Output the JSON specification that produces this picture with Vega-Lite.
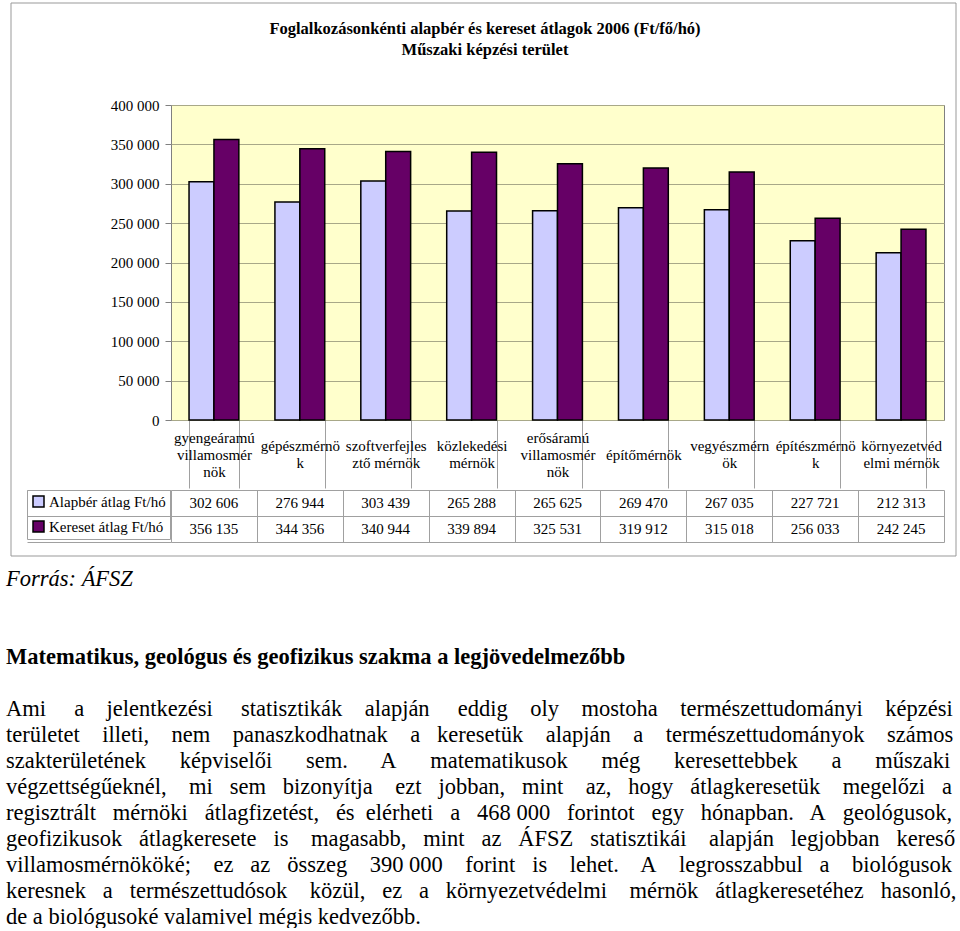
{
  "$schema": "https://vega.github.io/schema/vega-lite/v6.json",
  "padding": {"left": 5, "top": 3, "right": 0, "bottom": 0},
  "background": "white",
  "title": {
    "text": ["Foglalkozásonkénti alapbér és kereset átlagok 2006 (Ft/fő/hó)", "Műszaki képzési terület"],
    "font": "Liberation Serif", "fontSize": 16.5, "fontWeight": "bold", "color": "black",
    "lineHeight": 21, "anchor": "start", "frame": "group", "align": "center", "dx": 314, "offset": -55
  },
  "spacing": 0,
  "resolve": {"legend": {"color": "independent"}},
  "datasets": {
    "bars": [
      {"cat": "gyengeáramú villamosmérnök", "series": "Alapbér átlag Ft/hó", "value": 302606},
      {"cat": "gyengeáramú villamosmérnök", "series": "Kereset átlag Ft/hó", "value": 356135},
      {"cat": "gépészmérnök", "series": "Alapbér átlag Ft/hó", "value": 276944},
      {"cat": "gépészmérnök", "series": "Kereset átlag Ft/hó", "value": 344356},
      {"cat": "szoftverfejlesztő mérnök", "series": "Alapbér átlag Ft/hó", "value": 303439},
      {"cat": "szoftverfejlesztő mérnök", "series": "Kereset átlag Ft/hó", "value": 340944},
      {"cat": "közlekedési mérnök", "series": "Alapbér átlag Ft/hó", "value": 265288},
      {"cat": "közlekedési mérnök", "series": "Kereset átlag Ft/hó", "value": 339894},
      {"cat": "erősáramú villamosmérnök", "series": "Alapbér átlag Ft/hó", "value": 265625},
      {"cat": "erősáramú villamosmérnök", "series": "Kereset átlag Ft/hó", "value": 325531},
      {"cat": "építőmérnök", "series": "Alapbér átlag Ft/hó", "value": 269470},
      {"cat": "építőmérnök", "series": "Kereset átlag Ft/hó", "value": 319912},
      {"cat": "vegyészmérnök", "series": "Alapbér átlag Ft/hó", "value": 267035},
      {"cat": "vegyészmérnök", "series": "Kereset átlag Ft/hó", "value": 315018},
      {"cat": "építészmérnök", "series": "Alapbér átlag Ft/hó", "value": 227721},
      {"cat": "építészmérnök", "series": "Kereset átlag Ft/hó", "value": 256033},
      {"cat": "környezetvédelmi mérnök", "series": "Alapbér átlag Ft/hó", "value": 212313},
      {"cat": "környezetvédelmi mérnök", "series": "Kereset átlag Ft/hó", "value": 242245}
    ],
    "text": [
      {"line": 0, "kind": "src", "text": "Forrás: ÁFSZ"},
      {"line": 3, "kind": "head", "text": "Matematikus, geológus és geofizikus szakma a legjövedelmezőbb"},
      {"line": 5, "kind": "p", "text": "Ami\u00a0\u00a0\u00a0\u00a0 a\u00a0\u00a0\u00a0 jelentkezési\u00a0\u00a0\u00a0\u00a0 statisztikák\u00a0\u00a0\u00a0 alapján\u00a0\u00a0\u00a0\u00a0 eddig\u00a0\u00a0\u00a0 oly\u00a0\u00a0\u00a0 mostoha\u00a0\u00a0\u00a0 természettudományi\u00a0\u00a0\u00a0 képzési"},
      {"line": 6, "kind": "p", "text": "területet\u00a0\u00a0\u00a0 illeti,\u00a0\u00a0\u00a0 nem\u00a0\u00a0\u00a0 panaszkodhatnak\u00a0\u00a0\u00a0 a\u00a0\u00a0 keresetük\u00a0\u00a0\u00a0 alapján\u00a0\u00a0\u00a0 a\u00a0\u00a0\u00a0 természettudományok\u00a0\u00a0\u00a0 számos"},
      {"line": 7, "kind": "p", "text": "szakterületének\u00a0\u00a0\u00a0\u00a0\u00a0 képviselői\u00a0\u00a0\u00a0\u00a0\u00a0 sem.\u00a0\u00a0\u00a0\u00a0\u00a0 A\u00a0\u00a0\u00a0\u00a0\u00a0 matematikusok\u00a0\u00a0\u00a0\u00a0\u00a0 még\u00a0\u00a0\u00a0\u00a0\u00a0 keresettebbek\u00a0\u00a0\u00a0\u00a0\u00a0 a\u00a0\u00a0\u00a0\u00a0\u00a0 műszaki"},
      {"line": 8, "kind": "p", "text": "végzettségűeknél,\u00a0\u00a0\u00a0 mi\u00a0\u00a0 sem\u00a0\u00a0 bizonyítja\u00a0\u00a0\u00a0 ezt\u00a0\u00a0 jobban,\u00a0\u00a0 mint\u00a0\u00a0\u00a0 az,\u00a0\u00a0 hogy\u00a0\u00a0 átlagkeresetük\u00a0\u00a0\u00a0 megelőzi\u00a0\u00a0 a"},
      {"line": 9, "kind": "p", "text": "regisztrált\u00a0\u00a0 mérnöki\u00a0\u00a0 átlagfizetést,\u00a0\u00a0 és\u00a0 elérheti\u00a0\u00a0 a\u00a0\u00a0 468 000\u00a0\u00a0 forintot\u00a0\u00a0 egy\u00a0\u00a0 hónapban.\u00a0\u00a0 A\u00a0\u00a0 geológusok,"},
      {"line": 10, "kind": "p", "text": "geofizikusok\u00a0\u00a0 átlagkeresete\u00a0\u00a0 is\u00a0\u00a0\u00a0 magasabb,\u00a0\u00a0 mint\u00a0\u00a0 az\u00a0\u00a0 ÁFSZ\u00a0\u00a0 statisztikái\u00a0\u00a0\u00a0 alapján\u00a0\u00a0 legjobban\u00a0\u00a0 kereső"},
      {"line": 11, "kind": "p", "text": "villamosmérnököké;\u00a0\u00a0\u00a0 ez\u00a0\u00a0 az\u00a0\u00a0 összeg\u00a0\u00a0\u00a0 390 000\u00a0\u00a0\u00a0 forint\u00a0\u00a0 is\u00a0\u00a0\u00a0 lehet.\u00a0\u00a0\u00a0 A\u00a0\u00a0\u00a0 legrosszabbul\u00a0\u00a0 a\u00a0\u00a0\u00a0 biológusok"},
      {"line": 12, "kind": "p", "text": "keresnek\u00a0\u00a0 a\u00a0\u00a0 természettudósok\u00a0\u00a0\u00a0 közül,\u00a0\u00a0 ez\u00a0\u00a0 a\u00a0\u00a0 környezetvédelmi\u00a0\u00a0\u00a0 mérnök\u00a0\u00a0 átlagkeresetéhez\u00a0\u00a0 hasonló,"},
      {"line": 13, "kind": "p", "text": "de a biológusoké valamivel mégis kedvezőbb."}
    ]
  },
  "vconcat": [
    {
      "width": 773, "height": 315,
      "data": {"name": "bars"},
      "view": {"fill": "#FFFFCC", "stroke": "#808080", "strokeWidth": 1},
      "mark": {"type": "bar", "stroke": "black", "strokeWidth": 1.5},
      "encoding": {
        "x": {
          "field": "cat", "type": "nominal", "sort": null, "title": null,
          "scale": {"paddingInner": 0.42, "paddingOuter": 0.21},
          "axis": {
            "tickBand": "extent", "tickSize": 68, "tickColor": "#a0a0a0", "tickWidth": 1,
            "domain": false, "labelAngle": 0, "labelFontSize": 15, "labelBaseline": "middle",
            "labelPadding": {
              "condition": [
                {"test": "datum.value == 'gyengeáramú villamosmérnök' || datum.value == 'erősáramú villamosmérnök'", "value": -51},
                {"test": "datum.value != 'építőmérnök'", "value": -42.5}
              ],
              "value": -34
            },
            "labelLineHeight": 17, "labelLimit": 0,
            "labelExpr": "datum.value == 'gyengeáramú villamosmérnök' ? ['gyengeáramú', 'villamosmér', 'nök'] : datum.value == 'gépészmérnök' ? ['gépészmérnö', 'k'] : datum.value == 'szoftverfejlesztő mérnök' ? ['szoftverfejles', 'ztő mérnök'] : datum.value == 'közlekedési mérnök' ? ['közlekedési', 'mérnök'] : datum.value == 'erősáramú villamosmérnök' ? ['erősáramú', 'villamosmér', 'nök'] : datum.value == 'vegyészmérnök' ? ['vegyészmérn', 'ök'] : datum.value == 'építészmérnök' ? ['építészmérnö', 'k'] : datum.value == 'környezetvédelmi mérnök' ? ['környezetvéd', 'elmi mérnök'] : datum.value"
          }
        },
        "xOffset": {"field": "series", "type": "nominal", "sort": null, "scale": {"paddingInner": 0, "paddingOuter": 0}},
        "y": {
          "field": "value", "type": "quantitative", "title": null,
          "scale": {"domain": [0, 400000], "nice": false},
          "axis": {
            "values": [0, 50000, 100000, 150000, 200000, 250000, 300000, 350000, 400000],
            "format": ",d", "grid": true, "gridColor": "#A8A888", "gridWidth": 1,
            "domain": false, "tickSize": 6, "tickColor": "#808080",
            "labelPadding": 6, "labelFontSize": 15
          }
        },
        "color": {
          "field": "series", "type": "nominal", "sort": null,
          "scale": {"domain": ["Alapbér átlag Ft/hó", "Kereset átlag Ft/hó"], "range": ["#CCCCFF", "#660066"]},
          "legend": null
        }
      }
    },
    {
      "width": 773, "height": 52,
      "data": {"name": "bars"},
      "layer": [
        {
          "mark": {"type": "bar", "opacity": 0, "stroke": "black", "strokeWidth": 1.5},
          "encoding": {
            "x": {
              "field": "cat", "type": "nominal", "sort": null, "title": null,
              "scale": {"paddingInner": 0, "paddingOuter": 0},
              "axis": {"grid": true, "gridColor": "#a0a0a0", "gridWidth": 1, "tickBand": "extent", "labels": false, "ticks": false, "domain": false}
            },
            "y": {
              "field": "series", "type": "nominal", "sort": null, "title": null,
              "scale": {"paddingInner": 0, "paddingOuter": 0},
              "axis": {"grid": true, "gridColor": "#a0a0a0", "gridWidth": 1, "tickBand": "extent", "tickSize": 144, "tickColor": "#a0a0a0", "tickWidth": 1, "labels": false, "domain": false}
            },
            "color": {
              "field": "series", "type": "nominal", "sort": null,
              "scale": {"domain": ["Alapbér átlag Ft/hó", "Kereset átlag Ft/hó"], "range": ["#CCCCFF", "#660066"]},
              "legend": {
                "title": null, "orient": "none", "legendX": -144, "legendY": 0,
                "symbolType": "square", "symbolSize": 121, "symbolOpacity": 1,
                "symbolStrokeColor": "black", "symbolStrokeWidth": 1.5,
                "labelFont": "Liberation Serif", "labelFontSize": 15, "labelColor": "black",
                "labelOffset": 3, "padding": 4, "rowPadding": 8,
                "strokeColor": "#a0a0a0", "labelLimit": 0
              }
            }
          }
        },
        {
          "mark": {"type": "text", "fontSize": 15, "font": "Liberation Serif", "color": "black"},
          "encoding": {
            "x": {"field": "cat", "type": "nominal", "sort": null},
            "y": {"field": "series", "type": "nominal", "sort": null},
            "text": {"field": "value", "type": "quantitative", "format": ",d"}
          }
        }
      ]
    },
    {
      "width": 773, "height": 376,
      "data": {"name": "text"},
      "encoding": {
        "x": {"datum": 0, "type": "quantitative", "scale": {"domain": [0, 1], "range": [-165, 785]}, "axis": null},
        "y": {"field": "line", "type": "quantitative", "scale": {"domain": [0, 13], "range": [35.5, 373.5]}, "axis": null}
      },
      "layer": [
        {
          "mark": {"type": "point", "opacity": 0, "filled": true, "size": 1},
          "encoding": {
            "fill": {
              "field": "line", "type": "quantitative",
              "scale": {"range": ["rgba(255,255,255,0)", "rgba(255,255,255,0)"]},
              "legend": {
                "title": null, "orient": "none", "legendX": -160, "legendY": -102,
                "direction": "vertical", "gradientLength": 553, "gradientThickness": 945,
                "gradientStrokeColor": "#999999", "gradientStrokeWidth": 1,
                "labelExpr": "''", "padding": 0
              }
            }
          }
        },
        {
          "transform": [{"filter": "datum.kind == 'src'"}],
          "mark": {"type": "text", "align": "left", "baseline": "middle", "font": "Liberation Serif", "fontSize": 22.5, "fontStyle": "italic", "color": "black"},
          "encoding": {"text": {"field": "text"}}
        },
        {
          "transform": [{"filter": "datum.kind == 'head'"}],
          "mark": {"type": "text", "align": "left", "baseline": "middle", "font": "Liberation Serif", "fontSize": 22.5, "fontWeight": "bold", "color": "black"},
          "encoding": {"text": {"field": "text"}}
        },
        {
          "transform": [{"filter": "datum.kind == 'p'"}],
          "mark": {"type": "text", "align": "left", "baseline": "middle", "font": "Liberation Serif", "fontSize": 22.5, "color": "black"},
          "encoding": {"text": {"field": "text"}}
        }
      ]
    }
  ],
  "config": {
    "view": {"stroke": null},
    "font": "Liberation Serif",
    "locale": {"number": {"decimal": ",", "thousands": " ", "grouping": [3], "currency": ["", " Ft"]}},
    "axis": {"labelFont": "Liberation Serif", "labelColor": "black"}
  }
}
